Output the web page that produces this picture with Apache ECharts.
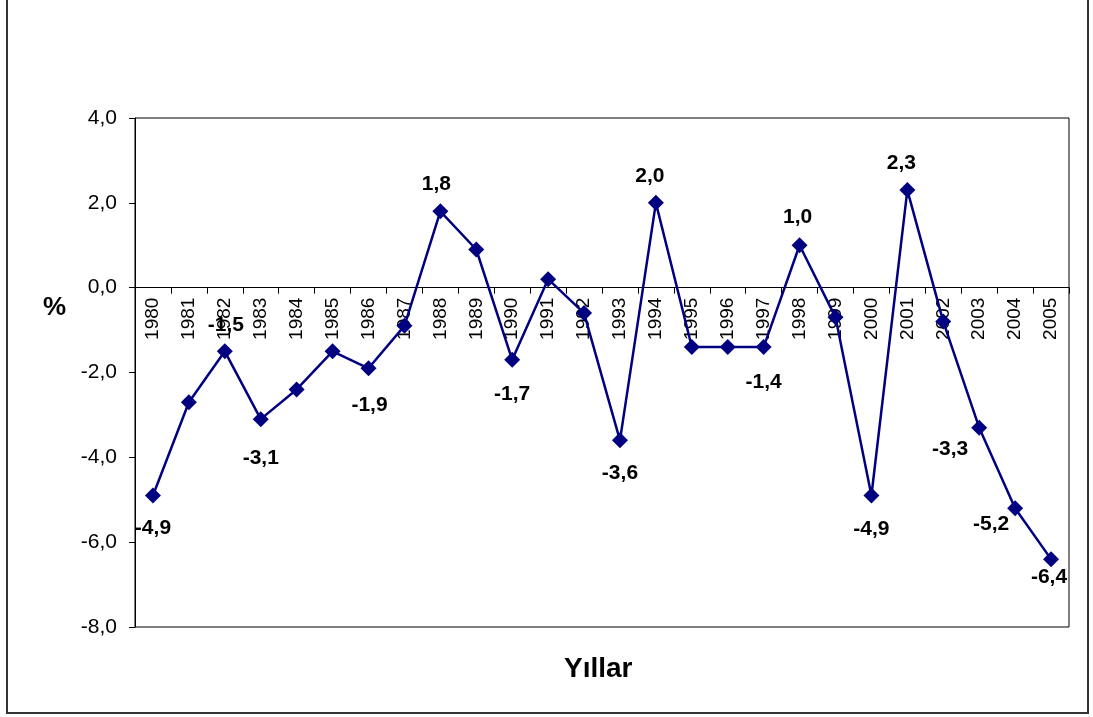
<!DOCTYPE html>
<html>
<head>
<meta charset="utf-8">
<title>Yıllar</title>
<script src="https://cdn.jsdelivr.net/npm/echarts@6/dist/echarts.min.js"></script>
<style>
  html, body { margin: 0; padding: 0; background: #ffffff; }
  #chart { width: 1093px; height: 717px; }
</style>
</head>
<body>
<div id="chart"></div>
<script>
// Yearly change (%), 1980–2005
const years = ['1980','1981','1982','1983','1984','1985','1986','1987','1988','1989',
               '1990','1991','1992','1993','1994','1995','1996','1997','1998','1999',
               '2000','2001','2002','2003','2004','2005'];
const values = [-4.9, -2.7, -1.5, -3.1, -2.4, -1.5, -1.9, -0.9, 1.8, 0.9,
                -1.7, 0.2, -0.6, -3.6, 2.0, -1.4, -1.4, -1.4, 1.0, -0.7,
                -4.9, 2.3, -0.8, -3.3, -5.2, -6.4];
// Years whose value is printed next to the marker
const labeledYears = ['1980','1982','1983','1986','1988','1990','1993','1994',
                      '1997','1998','2000','2001','2003','2004','2005'];
const yTicks = { min: -8, max: 4, step: 2 };

// Label placement relative to the marker centre
const labelOffsets = {
  '1980': [0, 33], '1982': [1, -26], '1983': [0, 39], '1986': [1, 37],
  '1988': [-4, -27], '1990': [0, 34], '1993': [0, 33], '1994': [-6, -27],
  '1997': [0, 35], '1998': [-2, -28], '2000': [0, 34], '2001': [-6, -27],
  '2003': [-29, 22], '2004': [-24, 16], '2005': [-2, 18]
};

const FONT = "'Liberation Sans', Arial, Helvetica, sans-serif";
const fmt = v => v.toFixed(1).replace('.', ',');

// Plot box in pixels
const GRID = { left: 135, top: 118, right: 24, bottom: 90 };
const plotHeight = 717 - GRID.top - GRID.bottom;
// Category axis sits on the zero line: shift it up from the bottom edge
const zeroShift = plotHeight * (0 - yTicks.min) / (yTicks.max - yTicks.min);

const seriesData = years.map((y, i) => {
  const item = { value: values[i] };
  if (labeledYears.includes(y)) {
    item.label = {
      show: true,
      position: 'inside',
      offset: labelOffsets[y],
      formatter: p => fmt(p.value),
      color: '#000000',
      fontFamily: FONT,
      fontWeight: 'bold',
      fontSize: 21
    };
  }
  return item;
});

const chart = echarts.init(document.getElementById('chart'), null, { renderer: 'canvas' });

chart.setOption({
  animation: false,
  backgroundColor: '#ffffff',
  grid: {
    left: GRID.left, top: GRID.top, right: GRID.right, bottom: GRID.bottom,
    show: true, borderColor: '#000000', borderWidth: 1, backgroundColor: 'transparent'
  },
  graphic: [
    {
      type: 'rect',
      shape: { x: 7, y: -5, width: 1081, height: 718 },
      style: { fill: 'none', stroke: '#333333', lineWidth: 2 },
      silent: true, z: 0
    },
    {
      type: 'text', left: 43, top: 295,
      style: { text: '%', font: "bold 26px " + FONT, fill: '#000000' }
    },
    {
      type: 'text', left: 564, top: 655,
      style: { text: 'Yıllar', font: "bold 28px " + FONT, fill: '#000000' }
    }
  ],
  xAxis: {
    type: 'category',
    data: years,
    boundaryGap: true,
    position: 'bottom',
    offset: -zeroShift,
    axisLine: { onZero: false, lineStyle: { color: '#000000', width: 1 } },
    axisTick: { show: true, length: 6, inside: false, lineStyle: { color: '#000000' } },
    axisLabel: {
      rotate: 90, margin: 10, interval: 0,
      color: '#000000', fontFamily: FONT, fontSize: 19
    },
    splitLine: { show: false }
  },
  yAxis: {
    type: 'value',
    min: yTicks.min, max: yTicks.max, interval: yTicks.step,
    axisLine: { show: true, lineStyle: { color: '#000000', width: 1 } },
    axisTick: { show: true, length: 6, inside: false, lineStyle: { color: '#000000' } },
    axisLabel: {
      margin: 18, color: '#000000', fontFamily: FONT, fontSize: 21,
      formatter: v => fmt(v)
    },
    splitLine: { show: false }
  },
  series: [{
    type: 'line',
    data: seriesData,
    symbol: 'diamond',
    symbolSize: 16,
    lineStyle: { color: '#000080', width: 2.5 },
    itemStyle: { color: '#000080' },
    label: { show: false },
    z: 5
  }]
});
</script>
</body>
</html>
